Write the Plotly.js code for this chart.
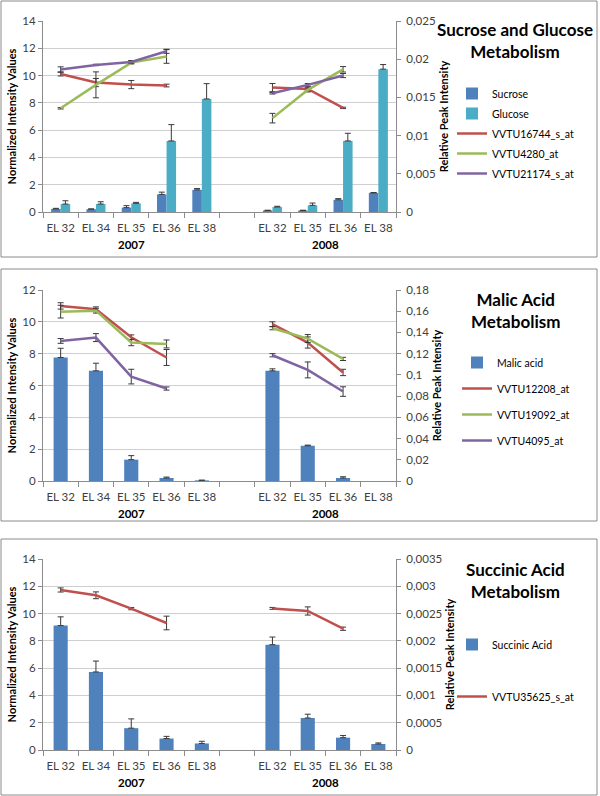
<!DOCTYPE html>
<html><head><meta charset="utf-8">
<script src="https://cdn.plot.ly/plotly-3.0.1.min.js"></script>
<style>html,body{margin:0;padding:0;background:#fff}#chart{width:600px;height:796px}</style>
</head><body><div id="chart"></div>
<script>
// ---- categories ----
const years  = ['2007','2007','2007','2007','2007','','2008','2008','2008','2008'];
const stages = ['EL 32','EL 34','EL 35','EL 36','EL 38','','EL 32','EL 35','EL 36','EL 38'];
const yearLabels = ['2007','2008'];

// ---- Panel 1: Sucrose and Glucose (bars: relative peak intensity, lines: normalized intensity) ----
const sucrose      = [0.0004,0.00036,0.00057,0.0023,0.0029,null,0.0002,0.0002,0.0016,0.0025];
const sucroseErr   = [0.00008,0.00005,0.00026,0.0003,0.00017,null,0.00003,0.00003,0.00015,0.00005];
const glucose      = [0.00104,0.00104,0.00113,0.0093,0.0148,null,0.00065,0.00087,0.0093,0.0187];
const glucoseErr   = [0.00043,0.0003,0.00013,0.00214,0.002,null,0.0001,0.0003,0.001,0.0006];
const vvtu16744    = [10.12,9.49,9.34,9.27,null,null,9.12,9.02,7.63,null];
const vvtu16744Err = [0.15,0.3,0.3,0.1,null,null,0.3,0.15,0.05,null];
const vvtu4280     = [7.6,9.32,10.95,11.4,null,null,6.88,8.95,10.46,null];
const vvtu4280Err  = [0.05,0.95,0.1,0.5,null,null,0.35,0.15,0.2,null];
const vvtu21174    = [10.44,10.78,11.0,11.78,null,null,8.7,9.32,10.0,null];
const vvtu21174Err = [0.2,0.05,0.1,0.15,null,null,0.05,0.1,0.15,null];

// ---- Panel 2: Malic acid ----
const malic        = [0.1164,0.1038,0.0201,0.0028,0.0006,null,0.1038,0.0332,0.0028,null];
const malicErr     = [0.0087,0.0072,0.0038,0.0009,0.0002,null,0.0019,0.0006,0.0012,null];
const vvtu12208    = [11.0,10.79,9.03,7.76,null,null,9.85,8.7,6.82,null];
const vvtu12208Err = [0.2,0.15,0.15,0.5,null,null,0.15,0.35,0.2,null];
const vvtu19092    = [10.64,10.7,8.7,8.61,null,null,9.6,8.95,7.67,null];
const vvtu19092Err = [0.4,0.15,0.2,0.25,null,null,0.1,0.25,0.1,null];
const vvtu4095     = [8.8,9.01,6.56,5.81,null,null,7.9,6.98,5.62,null];
const vvtu4095Err  = [0.15,0.25,0.46,0.1,null,null,0.1,0.5,0.3,null];

// ---- Panel 3: Succinic acid ----
const succinic     = [0.00228,0.00143,0.0004,0.00021,0.00012,null,0.00193,0.000586,0.000226,0.00011];
const succinicErr  = [0.00016,0.0002,0.00017,0.00004,0.00004,null,0.00014,0.00007,0.00004,0.00002];
const vvtu35625    = [11.73,11.34,10.36,9.31,null,null,10.38,10.19,8.89,null];
const vvtu35625Err = [0.15,0.25,0.08,0.5,null,null,0.07,0.3,0.12,null];

// ---- helpers ----
const W = 600, H = 796;
const px = x => x / W;
const py = y => 1 - y / H;
const keys = years.map((y, i) => y + '|' + stages[i]);
const FONT = 'Lato, "Open Sans", sans-serif';
const C = {blue:'#4F81BD', cyan:'#4BACC6', red:'#C0504D', green:'#9BBB59', purple:'#8064A2'};
const ERRC = '#3a3a3a';
const zeros = a => a.map(v => v == null ? null : 0);

function barTrace(name, y, err, color, xa, ya, leg, width) {
  const t = {type:'bar', name, x:keys, y, marker:{color}, xaxis:xa, yaxis:ya, legend:leg, legendgroup:name,
    error_y:{type:'data', symmetric:false, array:err, arrayminus:zeros(err), color:ERRC, thickness:1, width:3}};
  if (width) t.width = width;
  return t;
}
function lineTrace(name, y, err, color, xa, ya, leg) {
  return {type:'scatter', mode:'lines', name, x:keys, y, line:{color, width:2.5}, xaxis:xa, yaxis:ya,
    legend:leg, legendgroup:name, connectgaps:false,
    error_y:{type:'data', array:err, color:ERRC, thickness:1, width:3}};
}

const data = [
  barTrace('Sucrose', sucrose, sucroseErr, C.blue, 'x', 'y2', 'legend'),
  barTrace('Glucose', glucose, glucoseErr, C.cyan, 'x', 'y2', 'legend'),
  lineTrace('VVTU16744_s_at', vvtu16744, vvtu16744Err, C.red, 'x', 'y', 'legend'),
  lineTrace('VVTU4280_at', vvtu4280, vvtu4280Err, C.green, 'x', 'y', 'legend'),
  lineTrace('VVTU21174_s_at', vvtu21174, vvtu21174Err, C.purple, 'x', 'y', 'legend'),

  barTrace('Malic acid', malic, malicErr, C.blue, 'x2', 'y4', 'legend2', 0.4),
  lineTrace('VVTU12208_at', vvtu12208, vvtu12208Err, C.red, 'x2', 'y3', 'legend2'),
  lineTrace('VVTU19092_at', vvtu19092, vvtu19092Err, C.green, 'x2', 'y3', 'legend2'),
  lineTrace('VVTU4095_at', vvtu4095, vvtu4095Err, C.purple, 'x2', 'y3', 'legend2'),

  barTrace('Succinic Acid', succinic, succinicErr, C.blue, 'x3', 'y6', 'legend3', 0.4),
  lineTrace('VVTU35625_s_at', vvtu35625, vvtu35625Err, C.red, 'x3', 'y5', 'legend3'),
];

const AXC = '#8c8c8c';
const TICKF = {family:FONT, size:11.5, color:'#404040'};
const AXTF = {family:FONT, size:11, color:'#000'};
function xAxis(anchor) {
  return {domain:[px(43), px(396)], anchor, type:'category', categoryorder:'array', categoryarray:keys,
    tickvals:keys, ticktext:stages, tickson:'boundaries', ticks:'outside', ticklen:5, tickcolor:AXC,
    ticklabelstandoff:5, tickangle:0, showline:true, linecolor:AXC, showgrid:false, zeroline:false,
    tickfont:TICKF, fixedrange:true};
}
function yLeft(dom, max, dtick, anchor) {
  return {domain:dom, range:[0,max], dtick, anchor, ticks:'outside', ticklen:4, tickcolor:AXC,
    showline:true, linecolor:AXC, gridcolor:'#cfcfcf', zeroline:false, tickfont:TICKF,
    title:{text:'<b>Normalized Intensity Values</b>', font:AXTF, standoff:3}};
}
function yRight(over, anchor, max, dtick) {
  return {overlaying:over, side:'right', anchor, range:[0,max], dtick, ticks:'outside', ticklen:4, tickcolor:AXC,
    ticklabelstandoff:3, showline:true, linecolor:AXC, showgrid:false, zeroline:false, tickfont:TICKF,
    exponentformat:'none', title:{text:'<b>Relative Peak Intensity</b>', font:AXTF, standoff:5}};
}

const d1 = [py(212), py(21)], d2 = [py(481), py(290)], d3 = [py(750), py(559)];

function center(year) {
  const idx = years.map((y, i) => y === year ? i : null).filter(v => v !== null);
  return idx.reduce((a, b) => a + b, 0) / idx.length;
}
const yearAnn = [];
[['x',245],['x2',513],['x3',782]].forEach(([xa, yy]) => {
  yearLabels.forEach(yr => yearAnn.push({xref:xa, yref:'paper', x:center(yr), y:py(yy), text:'<b>'+yr+'</b>',
    showarrow:false, font:{family:FONT, size:11.5, color:'#000'}, xanchor:'center', yanchor:'middle'}));
});
const titleF = {family:FONT, size:17, color:'#000'};
const titles = [
  ['Sucrose and Glucose<br>Metabolism', 41],
  ['Malic Acid<br>Metabolism', 311],
  ['Succinic Acid<br>Metabolism', 580],
].map(([t, yy]) => ({xref:'paper', yref:'paper', x:px(515), y:py(yy), text:'<b>'+t+'</b>', showarrow:false,
   font:titleF, xanchor:'center', yanchor:'middle', align:'center'}));

const boxes = [[1,257],[269,521],[539,795]].map(([t, b]) => ({type:'rect', xref:'paper', yref:'paper',
  x0:px(1), x1:px(597), y0:py(b), y1:py(t), line:{color:'#8a8a8a', width:1}, fillcolor:'rgba(0,0,0,0)'}));

const legBase = {xanchor:'left', yanchor:'top', font:{family:FONT, size:10.5, color:'#000'}, bgcolor:'rgba(0,0,0,0)',
  traceorder:'grouped', itemwidth:30};

const layout = {
  width:W, height:H, margin:{l:0, r:0, t:0, b:0}, paper_bgcolor:'#fff', plot_bgcolor:'#fff',
  separators:', ', barmode:'group', bargap:0.46, bargroupgap:0, font:{family:FONT},
  xaxis:xAxis('y'), xaxis2:xAxis('y3'), xaxis3:xAxis('y5'),
  yaxis:yLeft(d1, 14, 2, 'x'), yaxis2:yRight('y','x',0.025,0.005),
  yaxis3:yLeft(d2, 12, 2, 'x2'), yaxis4:yRight('y3','x2',0.18,0.02),
  yaxis5:yLeft(d3, 14, 2, 'x3'), yaxis6:yRight('y5','x3',0.0035,0.0005),
  legend:Object.assign({}, legBase, {x:px(452), y:py(79), tracegroupgap:1}),
  legend2:Object.assign({}, legBase, {x:px(457), y:py(348), tracegroupgap:7}),
  legend3:Object.assign({}, legBase, {x:px(452), y:py(630), tracegroupgap:33}),
  annotations:[...titles, ...yearAnn],
  shapes:boxes,
  showlegend:true,
};
Plotly.newPlot('chart', data, layout, {staticPlot:true, displayModeBar:false});
</script></body></html>
